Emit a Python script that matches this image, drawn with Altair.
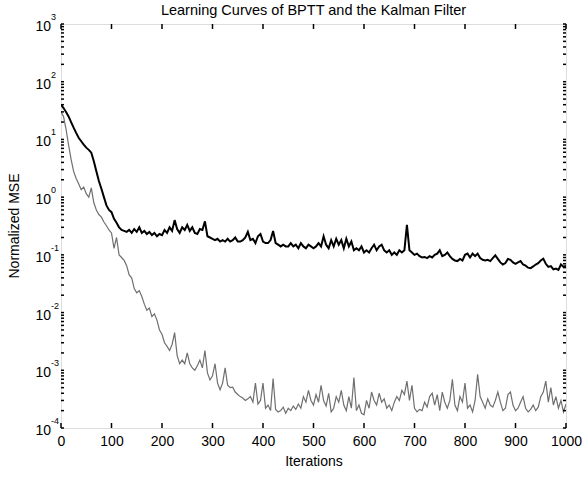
import altair as alt
import pandas as pd

# Iteration index (every 5 iterations)
iters = list(range(0, 1001, 5))

# Dark curve (upper, BPTT) normalized MSE
bptt = [
    40, 35, 30, 25, 20, 16, 13, 10.7, 9.3, 8.1,
    7.2, 6.6, 5.9, 4.2, 2.8, 1.9, 1.4, 1.0, 0.72, 0.6,
    0.55, 0.42, 0.36, 0.3, 0.27, 0.26, 0.25, 0.27, 0.24, 0.28,
    0.25, 0.3, 0.24, 0.26, 0.23, 0.25, 0.22, 0.24, 0.21, 0.23,
    0.22, 0.27, 0.24, 0.3, 0.26, 0.4, 0.28, 0.24, 0.3, 0.27,
    0.33, 0.26, 0.3, 0.24, 0.23, 0.28, 0.27, 0.38, 0.21, 0.2,
    0.19, 0.18, 0.19, 0.17, 0.18, 0.17, 0.19, 0.17, 0.18, 0.2,
    0.17, 0.17, 0.18, 0.2, 0.25, 0.18, 0.19, 0.16, 0.21, 0.23,
    0.17, 0.16, 0.16, 0.18, 0.26, 0.16, 0.15, 0.14, 0.15, 0.14,
    0.14, 0.16, 0.14, 0.15, 0.13, 0.16, 0.14, 0.13, 0.15, 0.14,
    0.13, 0.14, 0.16, 0.14, 0.21, 0.15, 0.13, 0.18, 0.14, 0.19,
    0.15, 0.18, 0.13, 0.19, 0.14, 0.17, 0.12, 0.13, 0.12, 0.14,
    0.11, 0.12, 0.11, 0.13, 0.15, 0.12, 0.14, 0.15, 0.12, 0.11,
    0.12, 0.1, 0.11, 0.1, 0.12, 0.11, 0.12, 0.33, 0.12, 0.11,
    0.1, 0.105, 0.095, 0.09, 0.092, 0.088, 0.095, 0.09, 0.1, 0.105,
    0.12, 0.095, 0.1, 0.11, 0.095, 0.085, 0.08, 0.078, 0.085, 0.08,
    0.1, 0.105, 0.09, 0.105, 0.095, 0.105, 0.088, 0.082, 0.08, 0.082,
    0.078, 0.088, 0.098, 0.085, 0.074, 0.068, 0.072, 0.085, 0.082, 0.074,
    0.07, 0.074, 0.078, 0.068, 0.065, 0.06, 0.059, 0.063, 0.068, 0.072,
    0.08, 0.086, 0.07, 0.062, 0.064, 0.056, 0.058, 0.055, 0.068, 0.062,
    0.065,
]

# Gray curve (lower, Kalman filter) normalized MSE
kalman = [
    30, 25, 15, 8, 4.5, 2.8, 2.1, 1.7, 1.35, 1.5,
    1.15, 1.0, 1.45, 0.8, 0.6, 0.5, 0.45, 0.37, 0.32, 0.27,
    0.24, 0.13, 0.2, 0.1, 0.09, 0.08, 0.065, 0.045, 0.04, 0.026,
    0.022, 0.024, 0.019, 0.014, 0.011, 0.012, 0.0085, 0.0095, 0.0074, 0.005,
    0.0042, 0.003, 0.0026, 0.0022, 0.0028, 0.0045, 0.0018, 0.0013, 0.0015, 0.0013,
    0.002, 0.0013, 0.0011, 0.001, 0.0012, 0.0015, 0.0011, 0.0022, 0.0009, 0.00068,
    0.0008, 0.0013, 0.0006, 0.00046, 0.0006, 0.0011, 0.00055, 0.0005, 0.00051, 0.00042,
    0.00038, 0.00035, 0.00033, 0.0003, 0.00032, 0.00035, 0.00028, 0.0006, 0.00026, 0.0003,
    0.0006, 0.00022, 0.00025, 0.0002, 0.00072, 0.00021, 0.00019, 0.0002, 0.00023, 0.00018,
    0.00022, 0.0002, 0.00024, 0.00021, 0.00026, 0.00022, 0.00035, 0.00028, 0.00045, 0.0003,
    0.00025, 0.00038, 0.00028, 0.00055, 0.0003, 0.00024, 0.0004, 0.00019, 0.00022, 0.00035,
    0.00028, 0.00045, 0.00025, 0.0002, 0.00035, 0.00022, 0.00075, 0.0002, 0.00025, 0.00018,
    0.00017, 0.0003, 0.00022, 0.00042, 0.0003, 0.00025, 0.0004, 0.00028, 0.00032, 0.00022,
    0.00025, 0.0002, 0.00028, 0.00035, 0.0003, 0.00045, 0.00038, 0.00065, 0.0003, 0.00055,
    0.00022, 0.00019, 0.00021, 0.0002, 0.00028, 0.00023, 0.00035, 0.0004, 0.00025, 0.00038,
    0.0002, 0.00042, 0.00028, 0.00022, 0.0003, 0.0007, 0.00025, 0.0002, 0.00035, 0.00028,
    0.0006, 0.00022, 0.00025, 0.00019, 0.0003, 0.00085, 0.00035, 0.00028, 0.00022, 0.00032,
    0.00025, 0.00023, 0.0003, 0.00042, 0.00028, 0.0002, 0.00022, 0.00038, 0.00042, 0.00025,
    0.0002, 0.00022, 0.00028, 0.00035, 0.00022, 0.00019, 0.00021, 0.00025, 0.0002, 0.00023,
    0.00035, 0.00042, 0.00065, 0.00028, 0.0005, 0.00025, 0.00035, 0.00022, 0.0003, 0.00019,
    0.00026,
]

x_ticks = [0, 100, 200, 300, 400, 500, 600, 700, 800, 900, 1000]
y_decades = [1e-4, 1e-3, 1e-2, 1e-1, 1e0, 1e1, 1e2, 1e3]
y_exps = ["-4", "-3", "-2", "-1", "0", "1", "2", "3"]
y_minor = [d * k for d in y_decades[:-1] for k in range(2, 10)]

TITLE = "Learning Curves of BPTT and the Kalman Filter"
XTITLE = "Iterations"
YTITLE = "Normalized MSE"

W, H = 505, 404
FONT = "Liberation Sans"

df = pd.DataFrame({"it": iters, "bptt": bptt, "kalman": kalman})
xt = pd.DataFrame({"it": x_ticks})
yl = pd.DataFrame({"v": y_decades, "base": ["10"] * len(y_decades), "exp": y_exps})
ym = pd.DataFrame({"v": y_minor + y_decades})

xs = alt.Scale(domain=[0, 1000], nice=False, zero=False)
ys = alt.Scale(type="log", domain=[1e-4, 1e3], nice=False)

xaxis = alt.Axis(values=x_ticks, format="d", ticks=False, domain=False, grid=False,
                 labelFontSize=14, labelColor="black", labelPadding=6, labelFont=FONT,
                 title=XTITLE, titleFontSize=14, titleFontWeight="normal", titleFont=FONT,
                 titleColor="black", titlePadding=6, labelFlush=False)

X = alt.X("it:Q", scale=xs, axis=xaxis)

kal = alt.Chart(df).mark_line(color="#6f6f6f", strokeWidth=1.2, clip=True).encode(
    x=X, y=alt.Y("kalman:Q", scale=ys, axis=None))
bp = alt.Chart(df).mark_line(color="black", strokeWidth=2, clip=True).encode(
    x=X, y=alt.Y("bptt:Q", scale=ys, axis=None))

bt = alt.Chart(xt).mark_rule(color="black", strokeWidth=1.5).encode(
    x=X, y=alt.value(H), y2=alt.value(H - 5))
tt = alt.Chart(xt).mark_rule(color="black", strokeWidth=1.5).encode(
    x=X, y=alt.value(0), y2=alt.value(5))

lt = alt.Chart(ym).mark_rule(color="black", strokeWidth=1.5).encode(
    y=alt.Y("v:Q", scale=ys, axis=None), x=alt.value(0), x2=alt.value(3))
rt = alt.Chart(ym).mark_rule(color="black", strokeWidth=1.5).encode(
    y=alt.Y("v:Q", scale=ys, axis=None), x=alt.value(W), x2=alt.value(W - 3))

base_lab = alt.Chart(yl).mark_text(align="right", baseline="middle", fontSize=14, dy=3,
                                   font=FONT, color="black").encode(
    y=alt.Y("v:Q", scale=ys, axis=None), x=alt.value(-10), text="base:N")
exp_lab = alt.Chart(yl).mark_text(align="left", baseline="middle", fontSize=9, dy=-7,
                                  font=FONT, color="black").encode(
    y=alt.Y("v:Q", scale=ys, axis=None), x=alt.value(-10), text="exp:N")

ytitle = alt.Chart(pd.DataFrame({"t": [YTITLE]})).mark_text(
    angle=270, fontSize=14, font=FONT, color="black", baseline="middle", align="center").encode(
    x=alt.value(-46), y=alt.value(H / 2), text="t:N")

ctitle = alt.Chart(pd.DataFrame({"t": [TITLE]})).mark_text(
    fontSize=14.5, font=FONT, color="black", baseline="middle", align="center").encode(
    x=alt.value(W / 2), y=alt.value(-13), text="t:N")

chart = alt.layer(kal, bp, bt, tt, lt, rt, base_lab, exp_lab, ytitle, ctitle).properties(
    width=W, height=H,
    autosize=alt.AutoSizeParams(type="none"),
    padding={"left": 61, "top": 24, "right": 19, "bottom": 53},
).configure_view(stroke="black", strokeWidth=2.5).configure(background="white")

chart.save("out.html", embed_options={"renderer": "svg", "actions": False})
